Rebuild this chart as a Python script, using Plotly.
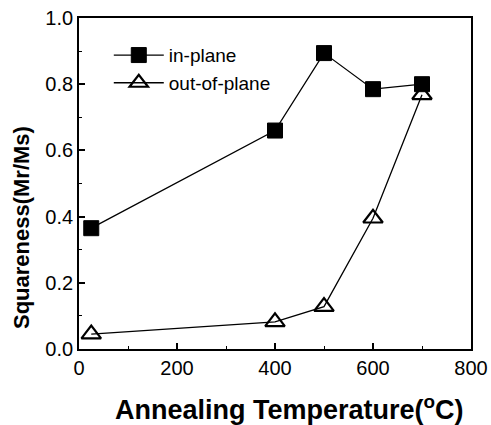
import plotly.graph_objects as go

# Annealing temperature (°C) and squareness Mr/Ms for both field orientations
temperature = [25, 400, 500, 600, 700]
in_plane = [0.365, 0.66, 0.894, 0.785, 0.80]
out_of_plane = [0.045, 0.082, 0.128, 0.395, 0.768]

x_ticks = [0, 200, 400, 600, 800]
y_ticks = [0.0, 0.2, 0.4, 0.6, 0.8, 1.0]
y_tick_text = ["0.0", "0.2", "0.4", "0.6", "0.8", "1.0"]

FONT = "Liberation Sans, Arial, sans-serif"

fig = go.Figure()
fig.add_trace(go.Scatter(
    x=temperature, y=in_plane, name="in-plane", mode="lines+markers",
    line=dict(color="black", width=1.3),
    marker=dict(symbol="square", size=15, color="black",
                line=dict(color="black", width=1)),
))
fig.add_trace(go.Scatter(
    x=temperature, y=out_of_plane, name="out-of-plane", mode="lines+markers",
    line=dict(color="black", width=1.3),
    marker=dict(symbol="triangle-up-open", size=17, color="black",
                line=dict(color="black", width=2.2)),
))

axis_common = dict(
    showline=True, mirror=True, linecolor="black", linewidth=1.8,
    ticks="inside", ticklen=6, tickwidth=1.5, tickcolor="black",
    showgrid=False, zeroline=False, automargin=False,
    tickfont=dict(family=FONT, size=20, color="black"),
)

fig.update_xaxes(
    range=[0, 800], tickvals=x_ticks,
    minor=dict(ticks="inside", ticklen=3, tickwidth=1.2, dtick=100,
               tickcolor="black", showgrid=False),
    **axis_common,
)
fig.update_yaxes(
    range=[0, 1.0], tickvals=y_ticks, ticktext=y_tick_text,
    minor=dict(ticks="inside", ticklen=3, tickwidth=1.2, dtick=0.1,
               tickcolor="black", showgrid=False),
    **axis_common,
)

fig.add_annotation(
    text="Annealing Temperature(<sup>o</sup>C)", xref="paper", yref="paper",
    x=0.538, y=-0.178, xanchor="center", yanchor="middle", showarrow=False,
    font=dict(family=FONT, size=27, color="black", weight="bold"),
)
fig.add_annotation(
    text="Squareness(Mr/Ms)", xref="paper", yref="paper",
    x=-0.145, y=0.366, xanchor="center", yanchor="middle", textangle=-90,
    showarrow=False,
    font=dict(family=FONT, size=22, color="black", weight="bold"),
)

fig.update_layout(
    width=491, height=425,
    margin=dict(l=79, r=20, t=18, b=76, autoexpand=False),
    paper_bgcolor="white", plot_bgcolor="white",
    showlegend=True,
    legend=dict(
        x=0.076, y=0.945, xanchor="left", yanchor="top",
        bgcolor="rgba(0,0,0,0)", borderwidth=0,
        font=dict(family=FONT, size=19, color="black"),
        itemwidth=50, tracegroupgap=0,
    ),
)

fig.write_html("out.html")
